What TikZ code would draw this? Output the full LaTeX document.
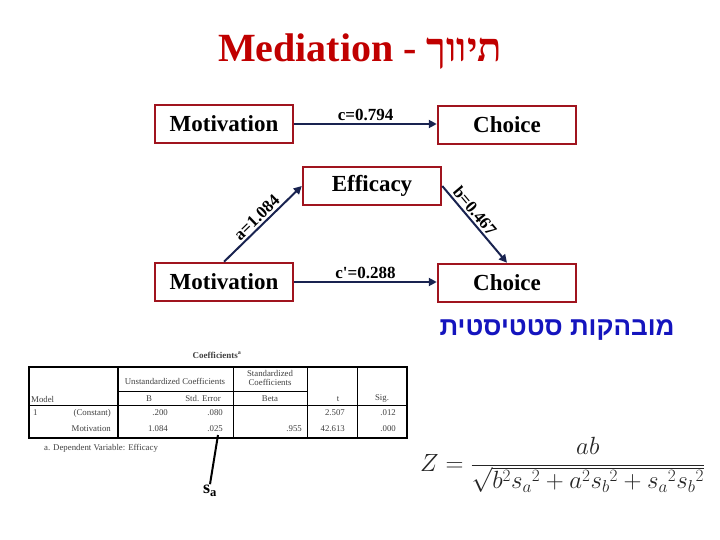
\documentclass[tikz,border=0pt]{standalone}
\usepackage{fontspec}
\setmainfont{Liberation Serif}
\newfontfamily\hebserif[Script=Hebrew]{Liberation Serif}
\newfontfamily\hebsans[Script=Hebrew]{Liberation Sans}
\TeXXeTstate=1
\usetikzlibrary{arrows.meta}

\definecolor{boxred}{RGB}{160,20,30}
\definecolor{titlered}{RGB}{192,0,0}
\definecolor{pathblue}{RGB}{25,35,80}
\definecolor{hebblue}{RGB}{20,20,190}

\tikzset{
  varbox/.style={draw=boxred, line width=2.5pt, fill=white, minimum width=138pt,
    minimum height=38pt, inner sep=0pt, font=\bfseries\fontsize{23}{23}\selectfont},
  effect/.style={draw=pathblue, line width=2pt, -{Triangle[length=8pt,width=8pt]}},
  coef/.style={font=\bfseries\fontsize{17}{17}\selectfont, inner sep=2pt},
  cell/.style={font=\fontsize{8.8}{9.5}\selectfont, text=black!75, inner sep=0pt},
}

\begin{document}
\begin{tikzpicture}[x=1pt,y=-1pt]
\useasboundingbox (0,0) rectangle (720,540);

% title
\node[font=\bfseries\fontsize{40}{40}\selectfont, text=titlered] (title) at (360,52)
  {Mediation - {\hebserif\beginR תיווך\endR}};

% total effect
\node[varbox] (mot1) at (224,124) {Motivation};
\node[varbox] (cho1) at (507,125) {Choice};
\draw[effect] (mot1.east) -- node[coef, above] (cval) {c=0.794} (mot1.east -| cho1.west);

% mediated model
\node[varbox] (eff) at (372,186) {Efficacy};
\node[varbox] (mot2) at (224,282) {Motivation};
\node[varbox] (cho2) at (507,283) {Choice};
\draw[effect] (mot2.north) -- node[coef, sloped, above] (aval) {a=1.084} (eff.west);
\draw[effect] (eff.east) -- node[coef, sloped, above, pos=0.4] (bval) {b=0.467} (cho2.north);
\draw[effect] (mot2.east) -- node[coef, above] (cpval) {c\textquotesingle=0.288} (mot2.east -| cho2.west);

% significance
\node[font=\bfseries\fontsize{26}{26}\selectfont, text=hebblue] (sig) at (557,330)
  {\hebsans\beginR מובהקות סטטיסטית\endR};

% coefficients table
\node[cell, font=\bfseries\fontsize{9}{9}\selectfont] (ttitle) at (217,355) {Coefficients\textsuperscript{a}};
\draw[line width=1.2pt] (29,367) rectangle (407,438);
\draw[line width=1.2pt] (118,367) -- (118,438);
\draw[line width=1pt] (29,405) -- (407,405);
\draw[line width=0.6pt] (118,391) -- (307,391);
\draw[line width=0.6pt] (233,367) -- (233,438);
\draw[line width=0.6pt] (307,367) -- (307,438);
\draw[line width=0.6pt] (357,367) -- (357,438);

\node[cell] (hunst) at (175,381) {Unstandardized Coefficients};
\node[cell, align=center] (hstd) at (270,378) {Standardized\\[0pt]Coefficients};
\node[cell, anchor=west] (hmodel) at (31,399) {Model};
\node[cell] (hb) at (149,399) {B};
\node[cell] (hse) at (203,399) {Std. Error};
\node[cell] (hbeta) at (270,399) {Beta};
\node[cell] (ht) at (338,399) {t};
\node[cell] (hsig) at (382,399) {Sig.};

\node[cell, anchor=west] (rone) at (33,413) {1};
\node[cell, anchor=east] (rconst) at (111,413) {(Constant)};
\node[cell, anchor=east] (b1) at (168,413) {.200};
\node[cell, anchor=east] (se1) at (223,413) {.080};
\node[cell, anchor=east] (t1) at (345,413) {2.507};
\node[cell, anchor=east] (sig1) at (396,413) {.012};

\node[cell, anchor=east] (rmot) at (111,429) {Motivation};
\node[cell, anchor=east] (b2) at (168,429) {1.084};
\node[cell, anchor=east] (se2) at (223,429) {.025};
\node[cell, anchor=east] (beta2) at (302,429) {.955};
\node[cell, anchor=east] (t2) at (345,429) {42.613};
\node[cell, anchor=east] (sig2) at (396,429) {.000};

\node[cell, anchor=west] (tnote) at (44,448) {a. Dependent Variable: Efficacy};

% standard error pointer
\coordinate (ptr) at (218,435);
\node[font=\fontsize{18}{18}\selectfont, inner sep=1pt] (sa) at (210,491) {$\mathbf{s}_{\mathbf{a}}$};
\draw[line width=2pt] (sa.north) -- (ptr);

% sobel test
\node[anchor=west, text=black!85, font=\fontsize{26}{30}\selectfont, inner sep=0pt] (sobel) at (420,465)
  {$\displaystyle Z=\frac{ab}{\sqrt{b^2{s_a}^2+a^2{s_b}^2+{s_a}^2{s_b}^2}}$};
\end{tikzpicture}
\end{document}
